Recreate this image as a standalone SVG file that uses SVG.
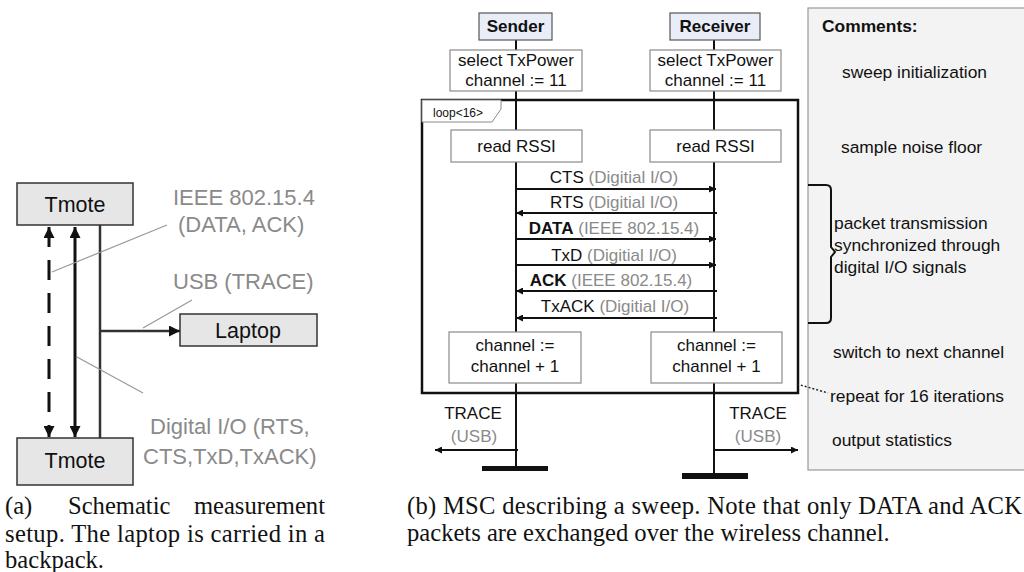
<svg xmlns="http://www.w3.org/2000/svg" width="1024" height="572" viewBox="0 0 1024 572">
<style>
text{font-family:"Liberation Sans",Arial,sans-serif;fill:#111}
.l{font-size:21.5px}
.lg{font-size:22px;fill:#8a8a8a}
.g{fill:#8a8a8a}
.m{font-size:17px}
.c{font-size:17.4px}
.b{font-weight:bold}
.cap{font-family:"Liberation Serif","Times New Roman",serif;font-size:24.6px;fill:#111}
.gbox{fill:#e6e6e6;stroke:#333;stroke-width:1.5}
.abox{fill:#fff;stroke:#8a8a8a;stroke-width:1.2}
.hbox{fill:#e8edf7;stroke:#555;stroke-width:1.2}
.life{stroke:#111;stroke-width:2;fill:none}
.msg{stroke:#111;stroke-width:2;fill:none;marker-end:url(#sa)}
.lead{stroke:#999;stroke-width:1.2;fill:none}
</style>
<defs>
<marker id="la" viewBox="0 0 10 10" refX="10" refY="5" markerUnits="userSpaceOnUse" markerWidth="15" markerHeight="11" orient="auto-start-reverse"><path d="M0,0 L10,5 L0,10z" fill="#111"/></marker>
<marker id="sa" viewBox="0 0 10 10" refX="10" refY="5" markerUnits="userSpaceOnUse" markerWidth="11" markerHeight="7" orient="auto-start-reverse"><path d="M0,0 L10,5 L0,10z" fill="#111"/></marker>
</defs>
<rect width="1024" height="572" fill="#fff"/>

<!-- Panel (a) -->
<g id="tmote-top"><rect class="gbox" x="17" y="183" width="116" height="42"/><text class="l" x="75" y="212" text-anchor="middle">Tmote</text></g>
<g id="tmote-bottom"><rect class="gbox" x="17" y="438" width="116" height="47"/><text class="l" x="75" y="468" text-anchor="middle">Tmote</text></g>
<g id="laptop"><rect class="gbox" x="180" y="314" width="137" height="32"/><text class="l" x="248" y="337.5" text-anchor="middle">Laptop</text></g>
<g id="connectors-a">
<line x1="49" y1="227" x2="49" y2="437" stroke="#111" stroke-width="3" stroke-dasharray="20 13" marker-start="url(#la)" marker-end="url(#la)"/>
<line x1="75" y1="227" x2="75" y2="437" stroke="#111" stroke-width="3" marker-start="url(#la)" marker-end="url(#la)"/>
<line x1="100" y1="225" x2="100" y2="438" stroke="#333" stroke-width="2.5"/>
<line x1="100" y1="331" x2="180" y2="331" stroke="#333" stroke-width="2.5" marker-end="url(#la)"/>
<line class="lead" x1="52" y1="272" x2="167" y2="225"/>
<line class="lead" x1="143" y1="328" x2="192" y2="300"/>
<line class="lead" x1="77" y1="357" x2="143" y2="393"/>
</g>
<g id="labels-a">
<text class="lg" x="173" y="205">IEEE 802.15.4</text>
<text class="lg" x="178" y="232">(DATA, ACK)</text>
<text class="lg" x="173" y="289">USB (TRACE)</text>
<text class="lg" x="150" y="434">Digital I/O (RTS,</text>
<text class="lg" x="143" y="464">CTS,TxD,TxACK)</text>
</g>

<!-- Panel (b) -->
<g id="comments">
<rect x="808" y="8" width="230" height="462" fill="#f3f3f3" stroke="#999" stroke-width="1.2"/>
<text class="c b" x="822" y="32">Comments:</text>
<text class="c" x="842" y="78">sweep initialization</text>
<text class="c" x="841" y="153">sample noise floor</text>
<text class="c" x="834" y="229">packet transmission</text>
<text class="c" x="834" y="251">synchronized through</text>
<text class="c" x="834" y="273">digital I/O signals</text>
<text class="c" x="833" y="358">switch to next channel</text>
<text class="c" x="830" y="402">repeat for 16 iterations</text>
<text class="c" x="832" y="446">output statistics</text>
</g>

<g id="lifelines">
<line class="life" x1="516" y1="40" x2="516" y2="468"/>
<line class="life" x1="714" y1="40" x2="714" y2="479"/>
</g>

<g id="loop">
<rect x="422" y="100" width="376" height="293" fill="none" stroke="#111" stroke-width="2.5"/>
<path d="M422,100 H501 V109 L492,122 H422 Z" fill="#fff" stroke="#8a8a8a" stroke-width="1"/>
<text x="433" y="117" style="font-size:12px">loop&lt;16&gt;</text>
</g>

<g id="sender"><rect class="hbox" x="479" y="13" width="73" height="27"/><text class="m b" x="515.5" y="32" text-anchor="middle">Sender</text></g>
<g id="receiver"><rect class="hbox" x="670" y="13" width="90" height="27"/><text class="m b" x="715" y="32" text-anchor="middle">Receiver</text></g>

<g id="s-init"><rect class="abox" x="450" y="50" width="132" height="41"/><text class="m" x="516" y="66" text-anchor="middle">select TxPower</text><text class="m" x="516" y="86" text-anchor="middle">channel := 11</text></g>
<g id="r-init"><rect class="abox" x="650" y="50" width="131" height="41"/><text class="m" x="715.5" y="66" text-anchor="middle">select TxPower</text><text class="m" x="715.5" y="86" text-anchor="middle">channel := 11</text></g>

<g id="s-rssi"><rect class="abox" x="451" y="130" width="131" height="32"/><text class="m" x="516.5" y="152" text-anchor="middle">read RSSI</text></g>
<g id="r-rssi"><rect class="abox" x="650" y="130" width="131" height="32"/><text class="m" x="715.5" y="152" text-anchor="middle">read RSSI</text></g>

<g id="s-next"><rect class="abox" x="449" y="332" width="132" height="51"/><text class="m" x="515" y="351" text-anchor="middle">channel :=</text><text class="m" x="515" y="372" text-anchor="middle">channel + 1</text></g>
<g id="r-next"><rect class="abox" x="651" y="332" width="131" height="51"/><text class="m" x="716.5" y="351" text-anchor="middle">channel :=</text><text class="m" x="716.5" y="372" text-anchor="middle">channel + 1</text></g>

<g id="s-end"><rect x="482" y="466" width="66" height="5" fill="#111"/></g>
<g id="r-end"><rect x="682" y="473" width="66" height="6" fill="#111"/></g>

<g id="connectors-b">
<line class="msg" x1="516" y1="189" x2="716" y2="189"/>
<line class="msg" x1="717" y1="213" x2="516" y2="213"/>
<line class="msg" x1="516" y1="239" x2="716" y2="239"/>
<line class="msg" x1="516" y1="265" x2="716" y2="265"/>
<line class="msg" x1="717" y1="291" x2="516" y2="291"/>
<line class="msg" x1="717" y1="318" x2="516" y2="318"/>
<line class="msg" x1="518" y1="450" x2="435" y2="450"/>
<line class="msg" x1="714" y1="450" x2="798" y2="450"/>
<path d="M808,185 H826 Q831,185 831,190 V247 L835,252 L831,257 V318 Q831,323 826,323 H808" fill="none" stroke="#111" stroke-width="2"/>
<line x1="797" y1="384" x2="828" y2="393" stroke="#222" stroke-width="1.5" stroke-dasharray="2 2"/>
</g>

<g id="msg-labels">
<text class="m" x="614" y="183" text-anchor="middle">CTS <tspan class="g">(Digitial I/O)</tspan></text>
<text class="m" x="614" y="208" text-anchor="middle">RTS <tspan class="g">(Digitial I/O)</tspan></text>
<text class="m" x="614" y="234" text-anchor="middle"><tspan class="b">DATA</tspan> <tspan class="g">(IEEE 802.15.4)</tspan></text>
<text class="m" x="614" y="261" text-anchor="middle">TxD <tspan class="g">(Digitial I/O)</tspan></text>
<text class="m" x="611" y="286" text-anchor="middle"><tspan class="b">ACK</tspan> <tspan class="g">(IEEE 802.15.4)</tspan></text>
<text class="m" x="615" y="312" text-anchor="middle">TxACK <tspan class="g">(Digitial I/O)</tspan></text>
<text class="m" x="473" y="419" text-anchor="middle">TRACE</text>
<text class="m g" x="474" y="442" text-anchor="middle">(USB)</text>
<text class="m" x="758" y="419" text-anchor="middle">TRACE</text>
<text class="m g" x="758" y="442" text-anchor="middle">(USB)</text>
</g>

<!-- Captions -->
<g id="captions">
<text class="cap" y="514"><tspan x="5">(a)</tspan><tspan x="68">Schematic</tspan></text>
<text class="cap" x="325" y="514" text-anchor="end">measurement</text>
<text class="cap" x="5" y="542" textLength="320" lengthAdjust="spacing">setup.  The laptop is carried in a</text>
<text class="cap" x="5" y="568">backpack.</text>
<text class="cap" x="407" y="514" textLength="615" lengthAdjust="spacing">(b) MSC describing a sweep.  Note that only DATA and ACK</text>
<text class="cap" x="407" y="541">packets are exchanged over the wireless channel.</text>
</g>
</svg>
